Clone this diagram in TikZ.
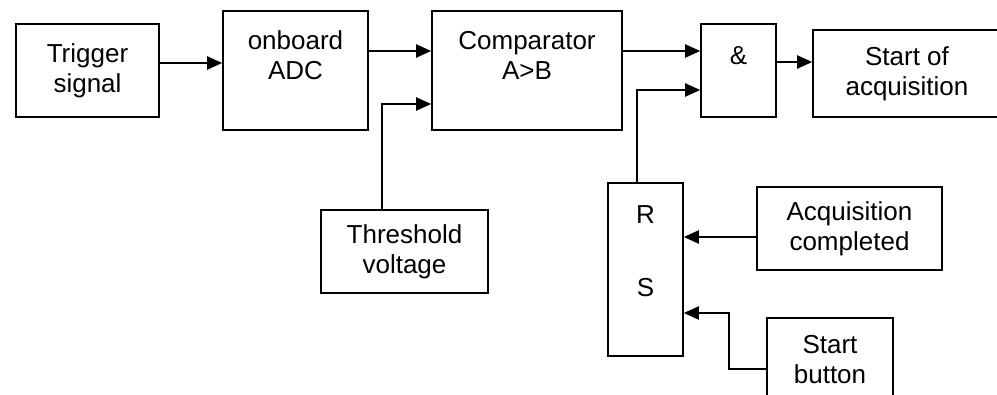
\documentclass[tikz,border=0pt]{standalone}
\usepackage{fontspec}
\setmainfont{Liberation Sans}
\usetikzlibrary{arrows.meta,positioning}

\begin{document}
\begin{tikzpicture}[x=1pt,y=-1pt,
  blk/.style={draw,line width=1.6pt,align=center,inner sep=0pt,font=\fontsize{26}{30}\selectfont},
  lbl/.style={inner sep=0pt,font=\fontsize{26}{30}\selectfont},
  conn/.style={line width=2pt,-{Triangle[length=15pt,width=13pt]}}]
\useasboundingbox (0,0) rectangle (997,395);
\node[blk,minimum width=143pt,minimum height=93pt] (trig) at (87.5,70.5) {Trigger\\signal};
\node[blk,minimum width=145pt,minimum height=119pt] (adc) at (295.5,70.5) {onboard\\ADC\\~};
\node[blk,minimum width=190pt,minimum height=119pt] (comp) at (527,70.5) {Comparator\\A>B\\~};
\node[blk,minimum width=75pt,minimum height=93pt] (and) at (738.5,70.5) {\&\\~};
\node[blk,minimum width=188pt,minimum height=87pt] (soa) at (907,73.5) {Start of\\acquisition};
\node[blk,minimum width=167pt,minimum height=83pt] (thr) at (404.5,251.5) {Threshold\\voltage};
\node[blk,minimum width=75pt,minimum height=173pt] (rs) at (645.5,269.5) {};
\node[lbl] (rlbl) at (645.5,215) {R};
\node[lbl] (slbl) at (645.5,288) {S};
\node[blk,minimum width=185pt,minimum height=83pt] (acq) at (849.5,228.5) {Acquisition\\completed};
\node[blk,minimum width=126pt,minimum height=83pt] (sbtn) at (830,359.5) {Start\\button};

\draw[conn] ([yshift=7.5pt]trig.east) -- ([yshift=7.5pt]adc.west);
\draw[conn] ([yshift=19.5pt]adc.east) -- ([yshift=19.5pt]comp.west);
\draw[conn] ([xshift=-22.5pt]thr.north) |- ([yshift=-33.5pt]comp.west);
\draw[conn] ([yshift=19.5pt]comp.east) -- ([yshift=19.5pt]and.west);
\draw[conn] ([xshift=-8.5pt]rs.north) |- ([yshift=-19.5pt]and.west);
\draw[conn] ([yshift=8.5pt]and.east) -- ([yshift=11.5pt]soa.west);
\draw[conn] ([yshift=-8.5pt]acq.west) -- ([yshift=32.5pt]rs.east);
\draw[conn] ([yshift=-9.5pt]sbtn.west) -- ++(-37,0) |- ([yshift=-43.5pt]rs.east);
\end{tikzpicture}
\end{document}
